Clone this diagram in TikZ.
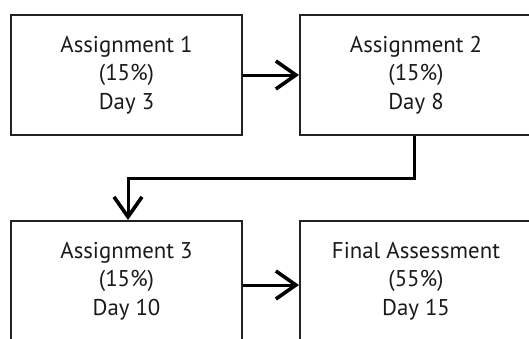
\documentclass[tikz,border=0pt]{standalone}
\usepackage{fontspec}
\setmainfont{PT Sans}
\usetikzlibrary{arrows.meta}
\definecolor{txt}{HTML}{1A1A1A}
\definecolor{bord}{HTML}{222222}
\tikzset{
  box/.style={draw=bord, line width=2pt, minimum width=231pt, minimum height=120pt,
    align=center, text=txt, font=\fontsize{22.8}{28.5}\selectfont, inner sep=0pt},
  conn/.style={line width=3pt, -{Straight Barb[length=20pt, width=28pt, line width=3.6pt]}}
}
\begin{document}
\begin{tikzpicture}[x=1pt,y=1pt]
\useasboundingbox (0,0) rectangle (529,-338);
\clip (0,0) rectangle (529,-338);
\fill[white] (0,0) rectangle (529,-338);
\node[box] (b1) at (126.5,-75) {Assignment 1\\(15\%)\\Day 3};
\node[box, minimum width=232pt] (b2) at (416,-75) {Assignment 2\\(15\%)\\Day 8};
\node[box] (b3) at (126.5,-281) {Assignment 3\\(15\%)\\Day 10};
\node[box, minimum width=232pt] (b4) at (416,-281) {Final Assessment\\(55\%)\\Day 15};
\draw[conn] (b1.east) -- (b2.west);
\draw[conn] ([xshift=-2pt]b2.south) -- ++(0,-42) -| ([xshift=1.5pt]b3.north);
\draw[conn] ([yshift=-4pt]b3.east) -- ([yshift=-4pt]b4.west);
\end{tikzpicture}
\end{document}
